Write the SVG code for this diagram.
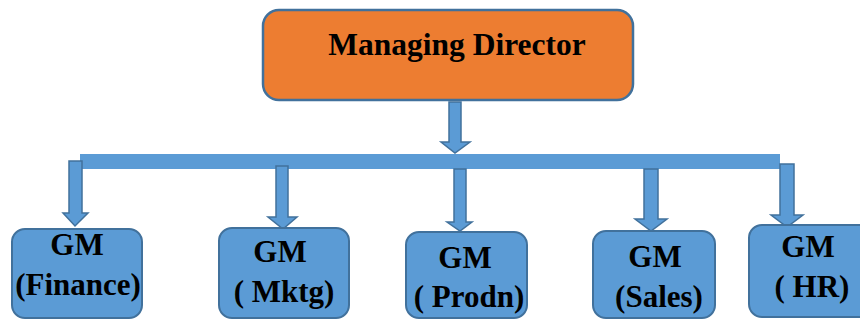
<svg xmlns="http://www.w3.org/2000/svg" width="860" height="320" viewBox="0 0 860 320">
<style>
.box{fill:#5B9BD5;stroke:#41719C;stroke-width:2}
.md{fill:#ED7D31;stroke:#41719C;stroke-width:2.5}
.arr{fill:#5B9BD5;stroke:#41719C;stroke-width:1.5;stroke-linejoin:miter}
.bar{fill:#5B9BD5}
text{font-family:"Liberation Serif","Times New Roman",serif;font-weight:bold;fill:#000;text-anchor:middle}
.t1{font-size:31.5px}
.t2{font-size:31px}
</style>
<rect width="860" height="320" fill="#fff"/>
<g id="md">
<rect class="md" x="263" y="10" width="370" height="90" rx="16"/>
<text class="t1" x="457" y="55">Managing Director</text>
</g>
<g id="connectors">
<polygon class="arr" points="449,102 461,102 461,142 470,142 455,153 441,142 449,142"/>
<rect class="bar" x="80" y="154" width="700" height="15"/>
<polygon class="arr" points="69,161 82,161 82,213 88,213 75,226 63,213 69,213"/>
<polygon class="arr" points="276,166 288,166 288,217 297,217 283,229 268,217 276,217"/>
<polygon class="arr" points="454,169 466,169 466,222 472,222 460,231 447,222 454,222"/>
<polygon class="arr" points="644,169 658,169 658,219 667,219 651,231 635,219 644,219"/>
<polygon class="arr" points="780,164 794,164 794,215 803,215 787,227 771,215 780,215"/>
</g>
<g id="finance">
<rect class="box" x="12" y="229" width="130" height="89" rx="13"/>
<text class="t2" x="77" y="255">GM</text>
<text class="t2" x="78" y="295">(Finance)</text>
</g>
<g id="mktg">
<rect class="box" x="219" y="228" width="130" height="90" rx="13"/>
<text class="t2" x="280" y="262">GM</text>
<text class="t2" x="284" y="302">( Mktg)</text>
</g>
<g id="prodn">
<rect class="box" x="406" y="232" width="121" height="86" rx="13"/>
<text class="t2" x="465" y="268">GM</text>
<text class="t2" x="469" y="307">( Prodn)</text>
</g>
<g id="sales">
<rect class="box" x="593" y="231" width="122" height="87" rx="13"/>
<text class="t2" x="655" y="267">GM</text>
<text class="t2" x="659" y="307">(Sales)</text>
</g>
<g id="hr">
<rect class="box" x="749" y="225" width="125" height="92" rx="13"/>
<text class="t2" x="808" y="257">GM</text>
<text class="t2" x="812" y="297">( HR)</text>
</g>
</svg>
